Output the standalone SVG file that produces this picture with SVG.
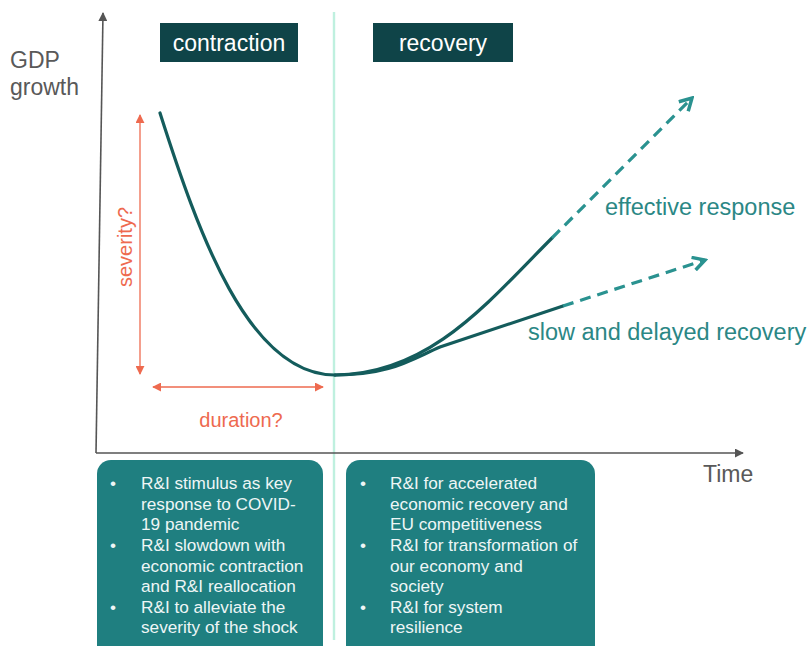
<svg xmlns="http://www.w3.org/2000/svg" width="812" height="646" viewBox="0 0 812 646">
<style>
  .sans{font-family:"Liberation Sans",Arial,sans-serif}
  .axislbl{font-size:23px;fill:#595959}
  .hdr{fill:#0f4448}
  .hdrtxt{font-size:23px;fill:#ffffff;text-anchor:middle}
  .lbl{font-size:23.5px;fill:#2b8785}
  .red{font-size:20px;fill:#ee6a4f}
  .box{fill:#1f7f80}
  .btxt{font-size:17.2px;fill:#eef6f6}
  .curve{fill:none;stroke:#145c5c;stroke-width:3.2;stroke-linecap:round}
  .dash{fill:none;stroke:#2a9290;stroke-width:3.2;stroke-dasharray:11 7}
  .axis{stroke:#555;stroke-width:1.6;fill:none}
  .redline{stroke:#ee6a4f;stroke-width:1.3;fill:none}
</style>
<defs>
  <marker id="axhead" viewBox="0 0 10 10" refX="9" refY="5" markerWidth="9" markerHeight="9" markerUnits="userSpaceOnUse" orient="auto">
    <path d="M0,0 L10,5 L0,10 Z" fill="#555"/>
  </marker>
  <marker id="redhead" viewBox="0 0 10 10" refX="9" refY="5" markerWidth="9" markerHeight="9" markerUnits="userSpaceOnUse" orient="auto-start-reverse">
    <path d="M0,0 L10,5 L0,10 Z" fill="#ee6a4f"/>
  </marker>
  <marker id="openhead" viewBox="0 0 12 12" refX="10" refY="6" markerWidth="16" markerHeight="16" markerUnits="userSpaceOnUse" orient="auto">
    <path d="M1,1 L10,6 L1,11" fill="none" stroke="#2a9290" stroke-width="2.6" stroke-linejoin="miter"/>
  </marker>
</defs>

<!-- separator -->
<line x1="334" y1="12" x2="334" y2="640" stroke="#bff0df" stroke-width="2.4"/>

<g id="connectors">
  <line class="axis" x1="96" y1="453" x2="103" y2="13" marker-end="url(#axhead)"/>
  <line class="axis" x1="96" y1="453" x2="743" y2="453" marker-end="url(#axhead)"/>
  <line class="redline" x1="140" y1="115" x2="140" y2="374" marker-start="url(#redhead)" marker-end="url(#redhead)"/>
  <line class="redline" x1="153" y1="387" x2="323" y2="387" marker-start="url(#redhead)" marker-end="url(#redhead)"/>
  <path class="curve" d="M160,113 C198,232 248,375 335,375"/>
  <path class="curve" d="M335,375 C430,375 490,300 552,238"/>
  <path class="curve" d="M335,375 C390,375 410,360 440,347 L563,306"/>
  <path class="dash" d="M552,238 L692,98" marker-end="url(#openhead)"/>
  <path class="dash" d="M563,306 L705,260" marker-end="url(#openhead)"/>
</g>

<g id="axis-labels" class="sans">
  <text class="axislbl" x="10" y="68">GDP</text>
  <text class="axislbl" x="10" y="95">growth</text>
  <text class="axislbl" x="703" y="482">Time</text>
</g>

<g id="contraction-header">
  <rect class="hdr" x="160" y="23" width="138" height="39"/>
  <text class="sans hdrtxt" x="229" y="51">contraction</text>
</g>
<g id="recovery-header">
  <rect class="hdr" x="373" y="23" width="140" height="39"/>
  <text class="sans hdrtxt" x="443" y="51">recovery</text>
</g>

<g id="severity-label">
  <text class="sans red" transform="translate(132,247) rotate(-90)" text-anchor="middle">severity?</text>
</g>
<g id="duration-label">
  <text class="sans red" x="241" y="427" text-anchor="middle">duration?</text>
</g>
<g id="effective-label">
  <text class="sans lbl" x="605" y="215">effective response</text>
</g>
<g id="slow-label">
  <text class="sans lbl" x="528" y="340">slow and delayed recovery</text>
</g>

<g id="contraction-box">
  <rect class="box" x="97" y="460" width="226" height="200" rx="14"/>
  <g class="sans btxt">
    <text x="110" y="489">•</text>
    <text x="141" y="489">R&amp;I stimulus as key</text>
    <text x="141" y="510">response to COVID-</text>
    <text x="141" y="530">19 pandemic</text>
    <text x="110" y="551">•</text>
    <text x="141" y="551">R&amp;I slowdown with</text>
    <text x="141" y="572">economic contraction</text>
    <text x="141" y="592">and R&amp;I reallocation</text>
    <text x="110" y="613">•</text>
    <text x="141" y="613">R&amp;I to alleviate the</text>
    <text x="141" y="633">severity of the shock</text>
  </g>
</g>

<g id="recovery-box">
  <rect class="box" x="346" y="460" width="249" height="200" rx="14"/>
  <g class="sans btxt">
    <text x="360" y="489">•</text>
    <text x="390" y="489">R&amp;I for accelerated</text>
    <text x="390" y="510">economic recovery and</text>
    <text x="390" y="530">EU competitiveness</text>
    <text x="360" y="551">•</text>
    <text x="390" y="551">R&amp;I for transformation of</text>
    <text x="390" y="572">our economy and</text>
    <text x="390" y="592">society</text>
    <text x="360" y="613">•</text>
    <text x="390" y="613">R&amp;I for system</text>
    <text x="390" y="633">resilience</text>
  </g>
</g>
</svg>
